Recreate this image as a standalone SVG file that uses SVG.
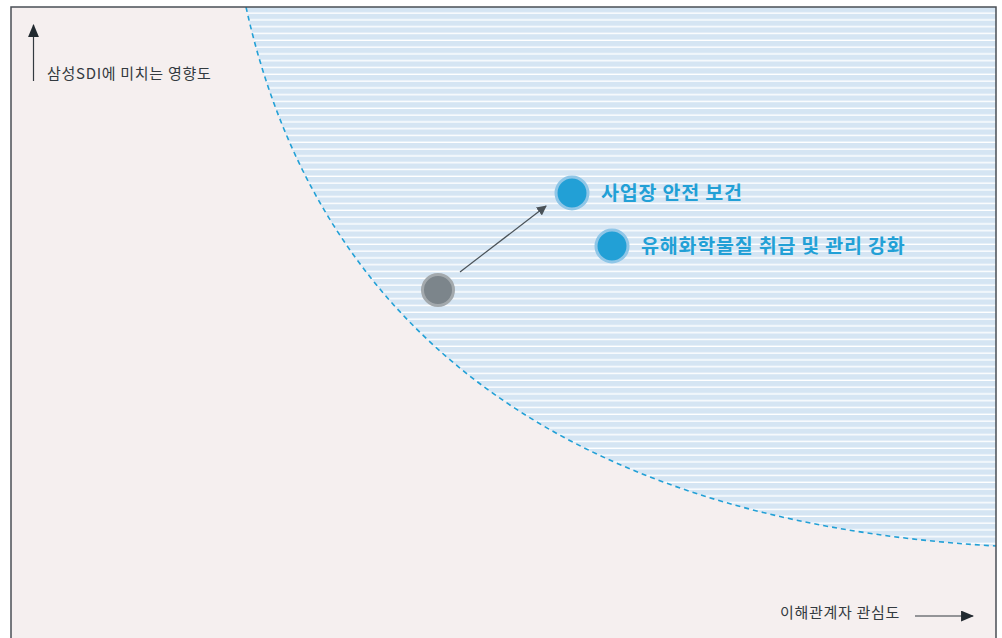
<svg xmlns="http://www.w3.org/2000/svg" width="1002" height="638" viewBox="0 0 1002 638">
<defs>
<pattern id="stripes" patternUnits="userSpaceOnUse" x="0" y="7" width="20" height="6.8">
<rect width="20" height="6.8" fill="#d5e5f3"/>
<rect y="5.4" width="20" height="1.4" fill="#ffffff"/>
</pattern>
<marker id="ah" viewBox="0 0 10 10" refX="9" refY="5" markerWidth="10" markerHeight="10" markerUnits="userSpaceOnUse" orient="auto">
<path d="M0,0 L10,5 L0,10 z" fill="#4a5258"/>
</marker>
<marker id="ahAxis" viewBox="0 0 12 10" refX="11" refY="5" markerWidth="13" markerHeight="11" markerUnits="userSpaceOnUse" orient="auto">
<path d="M0,0 L12,5 L0,10 z" fill="#222a30"/>
</marker>
<clipPath id="frame"><rect x="11" y="7" width="985" height="640"/></clipPath>
</defs>
<style>
.axis{font-family:"Noto Sans CJK KR","Noto Sans",sans-serif;font-size:15px;letter-spacing:0.7px;fill:#333a40}
.lbl{font-family:"Noto Sans CJK KR","Noto Sans",sans-serif;font-size:19.5px;letter-spacing:0.8px;font-weight:bold;fill:#22a0d6}
.blue{fill:#22a0d6;stroke:#8fc6e7;stroke-width:3}
.gray{fill:#7c858b;stroke:#a3a9ad;stroke-width:3}
</style>
<rect width="1002" height="638" fill="#ffffff"/>
<g id="background" clip-path="url(#frame)">
<rect x="11" y="7" width="985" height="640" fill="#f5efef"/>
<path d="M246,7 C312,307 538,520 996,546 L996,7 Z" fill="url(#stripes)"/>
<path d="M246,7 C312,307 538,520 996,546" fill="none" stroke="#22a0d6" stroke-width="1.6" stroke-dasharray="5,4"/>
</g>
<path d="M11,650 L11,7 L996,7 L996,650" fill="none" stroke="#4a4f55" stroke-width="1.5"/>
<g id="axes">
<line x1="33.5" y1="81" x2="33.5" y2="25" stroke="#333a40" stroke-width="1.2" marker-end="url(#ahAxis)"/>
<text class="axis" x="47" y="79">삼성SDI에 미치는 영향도</text>
<line x1="915" y1="616" x2="973" y2="616" stroke="#333a40" stroke-width="1.2" marker-end="url(#ahAxis)"/>
<text class="axis" x="780" y="618">이해관계자 관심도</text>
</g>
<g id="connectors">
<line x1="460" y1="272" x2="546" y2="206" stroke="#4a5258" stroke-width="1.2" marker-end="url(#ah)"/>
</g>
<g id="node-before">
<circle class="gray" cx="438" cy="290" r="15.5"/>
</g>
<g id="node-safety">
<circle class="blue" cx="572" cy="193" r="16"/>
<text class="lbl" x="601" y="200">사업장 안전 보건</text>
</g>
<g id="node-chemical">
<circle class="blue" cx="612" cy="246" r="16"/>
<text class="lbl" x="641" y="253">유해화학물질 취급 및 관리 강화</text>
</g>
</svg>
